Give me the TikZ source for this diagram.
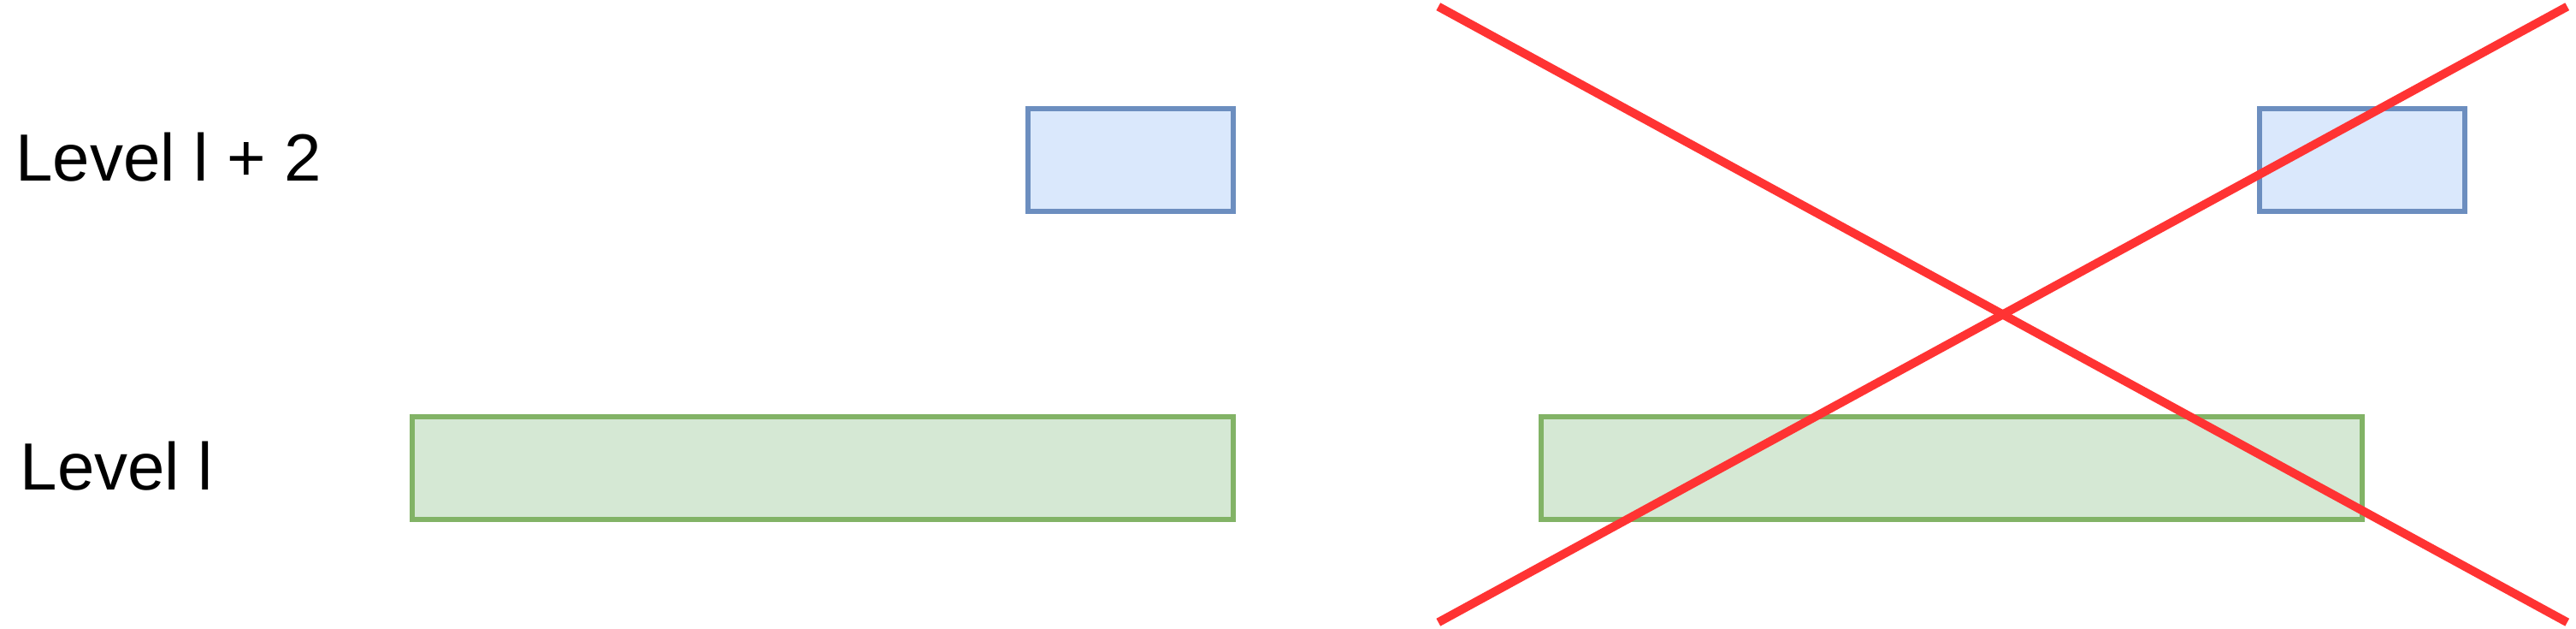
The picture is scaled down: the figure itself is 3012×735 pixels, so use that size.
\documentclass[tikz,border=0pt]{standalone}
\usepackage{fontspec}
\setmainfont{Liberation Sans}
\definecolor{bluefill}{HTML}{DAE8FC}
\definecolor{bluestroke}{HTML}{6C8EBF}
\definecolor{greenfill}{HTML}{D5E8D4}
\definecolor{greenstroke}{HTML}{82B366}
\definecolor{crossred}{HTML}{FF3333}
\begin{document}
\begin{tikzpicture}[x=1pt,y=-1pt,
  bluebox/.style={draw=bluestroke,fill=bluefill,line width=6pt,inner sep=0pt,minimum width=240pt,minimum height=120pt},
  greenbox/.style={draw=greenstroke,fill=greenfill,line width=6pt,inner sep=0pt,minimum width=960pt,minimum height=120pt},
  label/.style={anchor=base west,inner sep=0pt,font=\fontsize{78}{92}\selectfont},
  cross/.style={draw=crossred,line width=10pt}]
\useasboundingbox (0,0) rectangle (3012,735);
\fill[white] (0,0) rectangle (3012,735);
\node[label] (l2) at (18.2,211.7) {Level l + 2};
\node[label] (l0) at (23.5,572.3) {Level l};
\node[bluebox] (b1) at (1321.5,187.3) {};
\node[greenbox] (g1) at (961.5,547.3) {};
\node[greenbox] (g2) at (2281.5,547.3) {};
\node[bluebox] (b2) at (2761.5,187.3) {};
\coordinate (tl) at (1681.8,7.7);
\coordinate (br) at (3001.7,727.2);
\coordinate (bl) at (1681.8,727.2);
\coordinate (tr) at (3001.7,7.7);
\draw[cross] (tl) -- (br);
\draw[cross] (bl) -- (tr);
\end{tikzpicture}
\end{document}
